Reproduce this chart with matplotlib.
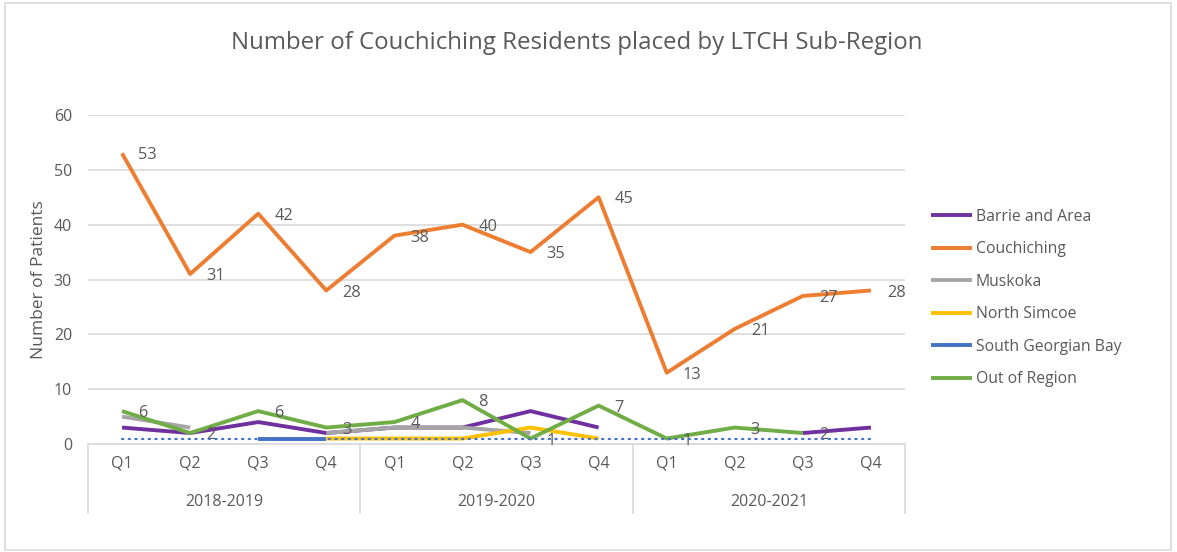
import matplotlib.pyplot as plt
import matplotlib.patches as patches
import numpy as np

plt.rcParams['font.family'] = ['Open Sans', 'DejaVu Sans']

nan = np.nan
quarters = ['Q1', 'Q2', 'Q3', 'Q4'] * 3
years = ['2018-2019', '2019-2020', '2020-2021']

barrie = [3, 2, 4, 2, 3, 3, 6, 3, nan, nan, 2, 3]
couchiching = [53, 31, 42, 28, 38, 40, 35, 45, 13, 21, 27, 28]
muskoka = [5, 3, nan, 2, 3, 3, 2, nan, nan, nan, nan, nan]
north_simcoe = [nan, nan, nan, 1, 1, 1, 3, 1, nan, nan, nan, nan]
south_georgian = [nan, nan, 1, 1, nan, nan, nan, nan, nan, nan, nan, nan]
out_of_region = [6, 2, 6, 3, 4, 8, 1, 7, 1, 3, 2, nan]
trend = [1] * 12

series = [
    ('Barrie and Area', barrie, '#7030A0'),
    ('Couchiching', couchiching, '#ED7D31'),
    ('Muskoka', muskoka, '#A5A5A5'),
    ('North Simcoe', north_simcoe, '#FFC000'),
    ('South Georgian Bay', south_georgian, '#4472C4'),
    ('Out of Region', out_of_region, '#70AD47'),
]

text_col = '#595959'
grid_col = '#D9D9D9'

fig = plt.figure(figsize=(11.77, 5.52), dpi=100)
ax = fig.add_axes([88 / 1177, 108 / 552, 817 / 1177, 329 / 552])

x = np.arange(12)
for name, vals, col in series:
    ax.plot(x, vals, color=col, lw=2.8, label=name, solid_capstyle='butt')
ax.plot(x, trend, color='#4472C4', lw=1.6, linestyle=(0, (0.6, 2.4)),
        dash_capstyle='round', zorder=5)

# data labels
for xi, v in zip(x, couchiching):
    ax.annotate(str(v), (xi, v), xytext=(11.5, -1.5), textcoords='offset points',
                ha='left', va='center', fontsize=11.8, color=text_col)
for xi, v in zip(x, out_of_region):
    if not np.isnan(v):
        ax.annotate(str(v), (xi, v), xytext=(11.5, -1.5), textcoords='offset points',
                    ha='left', va='center', fontsize=11.8, color=text_col)

ax.set_xlim(-0.5, 11.5)
ax.set_ylim(0, 60)
ax.set_yticks(range(0, 61, 10))
ax.yaxis.grid(True, color=grid_col, lw=1.2)
ax.set_axisbelow(True)
for s in ['left', 'right', 'top']:
    ax.spines[s].set_visible(False)
ax.spines['bottom'].set_color(grid_col)
ax.spines['bottom'].set_linewidth(1.2)
ax.tick_params(axis='y', length=0, labelsize=11.5, labelcolor=text_col, pad=11.5)
ax.set_xticks(x)
ax.set_xticklabels(quarters)
ax.tick_params(axis='x', length=0, labelsize=11.5, labelcolor=text_col, pad=8)

# group boxes on category axis
trans = ax.get_xaxis_transform()
for bx in [-0.5, 3.5, 7.5, 11.5]:
    ax.plot([bx, bx], [0, -69 / 329], transform=trans, color=grid_col,
            lw=1.2, clip_on=False)
for i, yr in enumerate(years):
    ax.text(i * 4 + 1.5, -58 / 329, yr, transform=trans, ha='center',
            va='center', fontsize=11.5, color=text_col)

ax.set_ylabel('Number of Patients', fontsize=12.5, color=text_col, labelpad=5)

fig.text(577 / 1177, 1 - 43 / 552, 'Number of Couchiching Residents placed by LTCH Sub-Region',
         ha='center', va='center', fontsize=17.3, color=text_col)

leg = fig.legend(loc='center left', bbox_to_anchor=(931 / 1177, 1 - 298 / 552),
                 frameon=False, fontsize=11.3, handlelength=2.6, handletextpad=0.25,
                 labelspacing=1.05, borderpad=0, borderaxespad=0)
for t in leg.get_texts():
    t.set_color(text_col)

fig.patches.append(patches.Rectangle((5 / 1177, 2 / 552), 1166 / 1177, 547 / 552,
                                     transform=fig.transFigure, fill=False,
                                     edgecolor=grid_col, lw=1.2))

plt.savefig('out.png', dpi=100)
